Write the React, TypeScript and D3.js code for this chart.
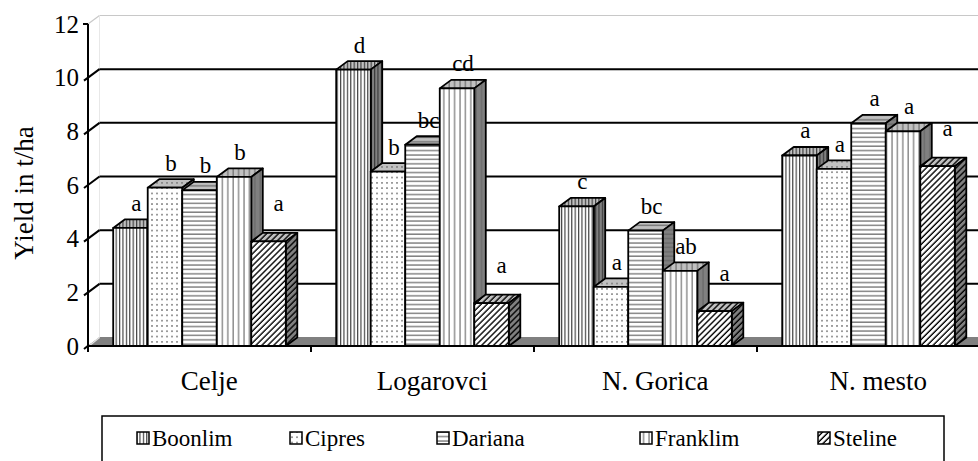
import * as d3 from 'd3';

const categories = ["Celje", "Logarovci", "N. Gorica", "N. mesto"];
const varieties = ["Boonlim", "Cipres", "Dariana", "Franklim", "Steline"];

// yield in t/ha, one value per location
const boonlim = [4.4, 10.3, 5.2, 7.1];
const cipres = [5.9, 6.5, 2.2, 6.6];
const dariana = [5.8, 7.5, 4.3, 8.3];
const franklim = [6.3, 9.6, 2.8, 8.0];
const steline = [3.9, 1.6, 1.3, 6.7];

// significance letters
const boonlimLetters = ["a", "d", "c", "a"];
const cipresLetters = ["b", "b", "a", "a"];
const darianaLetters = ["b", "bc", "bc", "a"];
const franklimLetters = ["b", "cd", "ab", "a"];
const stelineLetters = ["a", "a", "a", "a"];

const yTicks = [0, 2, 4, 6, 8, 10, 12];

const series = [boonlim, cipres, dariana, franklim, steline];
const letterSets = [boonlimLetters, cipresLetters, darianaLetters, franklimLetters, stelineLetters];

const W = 978, H = 461;
const X0 = 88, X1 = 980, Y0 = 346, Y1 = 24;
const DX = 11.5, DY = -8.5;
const FONT = "Liberation Serif";

const legendX = [137, 290, 437, 640, 818];
const pats = ["vn", "dot", "hz", "vw", "dg"];
const faces: [string, string][] = [["f", "#ffffff"], ["t", "#c0c0c0"], ["s", "#808080"]];

function Pattern({ kind, face, bg }: { kind: string; face: string; bg: string }) {
  const id = `${kind}-${face}`;
  if (kind === "vn")
    return (
      <pattern id={id} patternUnits="userSpaceOnUse" width={3.4} height={4}>
        <rect width={3.4} height={4} fill={bg} />
        <line x1={0.6} y1={0} x2={0.6} y2={4} stroke="#333" strokeWidth={1.1} />
      </pattern>
    );
  if (kind === "dot")
    return (
      <pattern id={id} patternUnits="userSpaceOnUse" width={5} height={5.3}>
        <rect width={5} height={5.3} fill={bg} />
        <rect x={1} y={2} width={2} height={1.3} fill="#777" />
      </pattern>
    );
  if (kind === "hz")
    return (
      <pattern id={id} patternUnits="userSpaceOnUse" width={4} height={4.4}>
        <rect width={4} height={4.4} fill={bg} />
        <line x1={0} y1={1} x2={4} y2={1} stroke="#666" strokeWidth={1.2} />
      </pattern>
    );
  if (kind === "vw")
    return (
      <pattern id={id} patternUnits="userSpaceOnUse" width={5.4} height={4}>
        <rect width={5.4} height={4} fill={bg} />
        <line x1={1} y1={0} x2={1} y2={4} stroke="#666" strokeWidth={1.1} />
      </pattern>
    );
  return (
    <pattern id={id} patternUnits="userSpaceOnUse" width={4.2} height={4.2} patternTransform="rotate(45)">
      <rect width={4.2} height={4.2} fill={bg} />
      <line x1={1} y1={0} x2={1} y2={4.2} stroke="#000" strokeWidth={1.4} />
    </pattern>
  );
}

export default function App() {
  const x = d3.scaleBand<string>().domain(categories).range([X0, X1]);
  const xs = d3.scaleBand<string>().domain(varieties).range([0, x.bandwidth()]).paddingInner(0).paddingOuter(0.73);
  const y = d3.scaleLinear().domain([0, 12]).range([Y0, Y1]);
  const w = xs.bandwidth();
  const pts = (p: number[][]) => p.map(d => d.join(",")).join(" ");
  const txt = (size: number) => ({ fontFamily: FONT, fontSize: `${size}px` });

  return (
    <svg width={W} height={H} style={{ position: "absolute", left: 0, top: 0, background: "#fff" }}>
      <defs>
        {pats.map(k => faces.map(([f, bg]) => <Pattern key={k + f} kind={k} face={f} bg={bg} />))}
      </defs>

      {/* floor */}
      <polygon points={pts([[X0, Y0], [X1, Y0], [X1 + DX, Y0 + DY], [X0 + DX, Y0 + DY]])} fill="#808080" stroke="#808080" />
      <line x1={X0 + 1} y1={Y0} x2={X0 + DX} y2={Y0 + DY} stroke="#e0e0e0" strokeWidth={1.5} />

      {/* back wall outline */}
      <line x1={X0} y1={Y1} x2={X0 + DX} y2={Y1 + DY} stroke="#c8c8c8" strokeWidth={1.2} />
      <line x1={X0 + DX} y1={Y1 + DY} x2={W} y2={Y1 + DY} stroke="#c8c8c8" strokeWidth={1.2} />
      <line x1={X0 + DX} y1={Y1 + DY} x2={X0 + DX} y2={Y0 + DY} stroke="#e8e8e8" strokeWidth={1} />

      {/* gridlines */}
      {yTicks.filter(t => t > 0 && t < 12).map(t => (
        <g key={t}>
          <line x1={X0 - 4} y1={y(t) + 3} x2={X0 + DX} y2={y(t) + DY} stroke="#000" strokeWidth={2} />
          <line x1={X0 + DX} y1={y(t) + DY} x2={W} y2={y(t) + DY} stroke="#000" strokeWidth={2} />
        </g>
      ))}
      <line x1={X0 - 4} y1={Y0 + 3} x2={X0 + 1} y2={Y0 - 1} stroke="#000" strokeWidth={2} />
      <line x1={X0 - 5} y1={Y1} x2={X0} y2={Y1} stroke="#000" strokeWidth={2} />

      {/* bars */}
      {categories.map((c, ci) => (
        <g key={c}>
          {varieties.map((v, si) => {
            const val = series[si][ci];
            const bx = (x(c) ?? 0) + (xs(v) ?? 0);
            const top = y(val);
            const k = pats[si];
            return (
              <g key={v} stroke="#000" strokeWidth={1.8} strokeLinejoin="round">
                <polygon points={pts([[bx, top], [bx + DX, top + DY], [bx + w + DX, top + DY], [bx + w, top]])} fill={`url(#${k}-t)`} />
                <polygon points={pts([[bx + w, top], [bx + w + DX, top + DY], [bx + w + DX, Y0 + DY], [bx + w, Y0]])} fill={`url(#${k}-s)`} />
                <rect x={bx} y={top} width={w} height={Y0 - top} fill={`url(#${k}-f)`} />
              </g>
            );
          })}
        </g>
      ))}

      {/* significance letters */}
      {categories.map((c, ci) =>
        varieties.map((v, si) => {
          const bx = (x(c) ?? 0) + (xs(v) ?? 0);
          const last = si === varieties.length - 1;
          return (
            <text key={c + v} x={bx + w / 2 + (last ? 10 : 6)} y={y(series[si][ci]) - (last ? 30 : 17)}
              textAnchor="middle" style={txt(23)}>
              {letterSets[si][ci]}
            </text>
          );
        })
      )}

      {/* axes */}
      <line x1={X0} y1={Y1} x2={X0} y2={Y0} stroke="#000" strokeWidth={2} />
      <line x1={X0} y1={Y0} x2={W} y2={Y0} stroke="#000" strokeWidth={2} />
      {categories.concat("end").map((c, i) => {
        const tx = X0 + i * x.bandwidth();
        return <line key={c} x1={tx} y1={Y0} x2={tx} y2={Y0 + 6} stroke="#000" strokeWidth={2} />;
      })}
      {yTicks.map(t => (
        <text key={t} x={79} y={y(t)} dy="0.34em" textAnchor="end" style={txt(25)}>{t}</text>
      ))}
      {categories.map(c => (
        <text key={c} x={(x(c) ?? 0) + x.bandwidth() / 2 + DX / 2 + 4} y={390} textAnchor="middle" style={txt(27)}>{c}</text>
      ))}
      <text transform={`translate(33,193) rotate(-90)`} textAnchor="middle" style={txt(27)}>Yield in t/ha</text>

      {/* legend */}
      <rect x={102} y={416} width={842} height={60} fill="#fff" stroke="#000" strokeWidth={1.5} />
      {varieties.map((v, i) => (
        <g key={v}>
          <rect x={legendX[i]} y={432} width={12} height={12} fill={`url(#${pats[i]}-f)`} stroke="#000" strokeWidth={1.5} />
          <text x={legendX[i] + 15} y={446} style={txt(23)}>{v}</text>
        </g>
      ))}
    </svg>
  );
}
